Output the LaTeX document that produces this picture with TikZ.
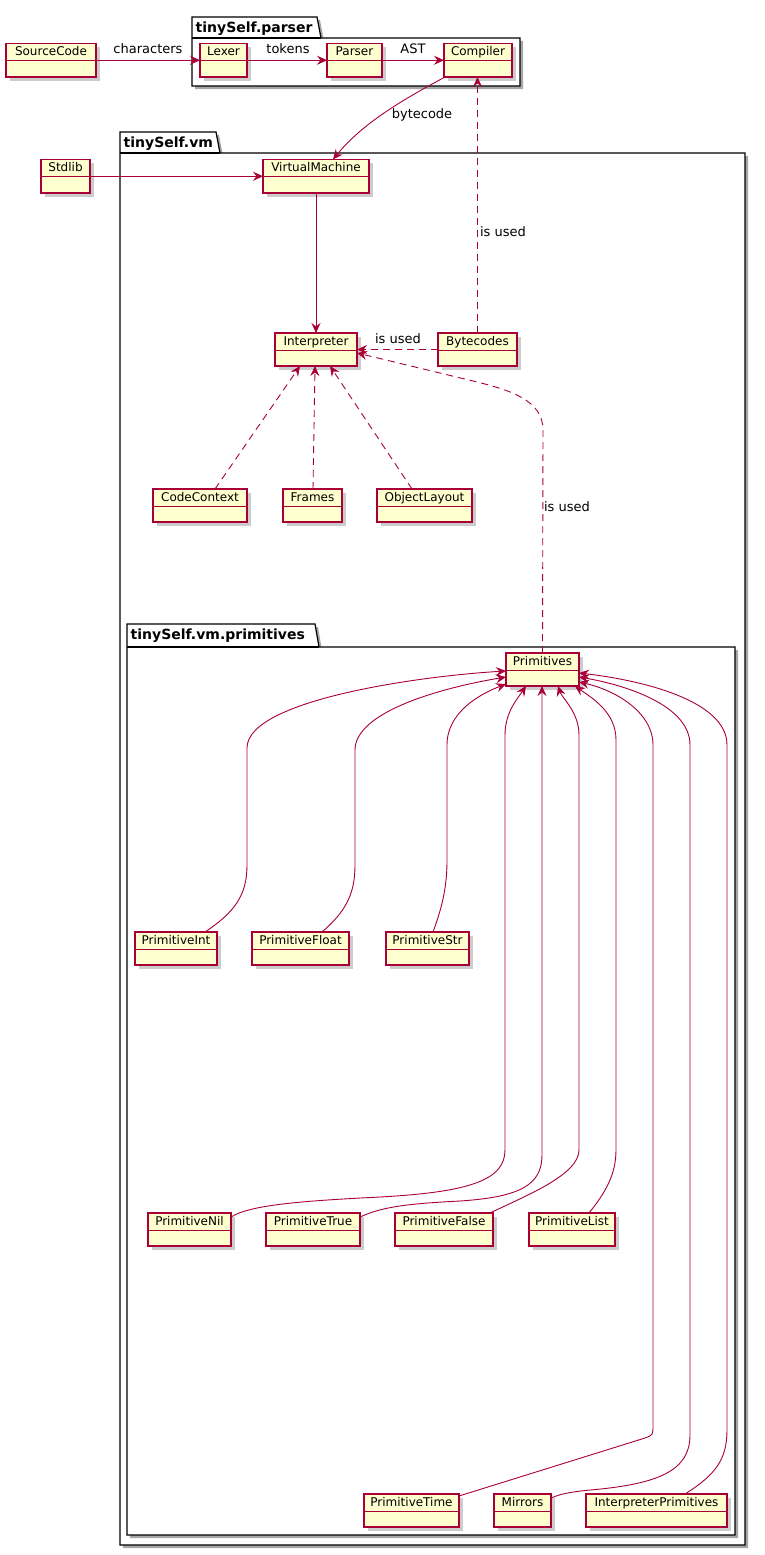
\documentclass[tikz,border=0pt]{standalone}
\usepackage{fontspec}
\setmainfont{DejaVu Sans}
\usetikzlibrary{arrows.meta,shadows}
\definecolor{pborder}{HTML}{A80036}
\definecolor{pfill}{HTML}{FEFECE}
\tikzset{
  clsbox/.style={draw=pborder, fill=pfill, line width=1.15pt, rectangle, inner sep=0pt, outer sep=0pt,
    drop shadow={shadow xshift=3.5pt, shadow yshift=-3.5pt, fill=black, opacity=0.2}},
  clstext/.style={font=\fontsize{12}{14}\selectfont, inner sep=0pt, anchor=base},
  divline/.style={draw=pborder, line width=0.9pt},
  edgeline/.style={draw=pborder, line width=0.9pt},
  arr/.style={edgeline, -{Stealth[length=10pt,width=9pt,inset=3.5pt]}},
  dep/.style={arr, dash pattern=on 7pt off 5pt},
  lbl/.style={font=\fontsize{13}{15}\selectfont, inner sep=0pt, anchor=base},
  pkg/.style={draw=black, line width=1.2pt, fill=white,
    drop shadow={shadow xshift=3pt, shadow yshift=-3pt, fill=black, opacity=0.35}},
  pkgline/.style={draw=black, line width=1.2pt},
  pkgtitle/.style={font=\bfseries\fontsize{14}{16}\selectfont, anchor=base west, inner sep=0pt},
}
% name, x1, y1, x2, y2, text
\newcommand\umlclass[6]{%
  \node[clsbox, anchor=north west, minimum width={(#4-#2)*1pt}, minimum height={(#5-#3)*1pt}] (#1) at (#2,#3) {};
  \draw[divline] ([yshift=-17pt]#1.north west) -- ([yshift=-17pt]#1.north east);
  \node[clstext] at ([yshift=-12.4pt]#1.north) {#6};
}
% x1, ytab, ybody, x2, y2, tabright, title
\newcommand\umlpkg[7]{%
  \path[pkg] (#1,#5) -- (#1,#2) -- (#6,#2) -- (#6+4,#3) -- (#4,#3) -- (#4,#5) -- cycle;
  \draw[pkgline] (#1,#3) -- (#6+4,#3);
  \node[pkgtitle] at (#1+3.5,#2+15.5) {#7};
}
\begin{document}
\begin{tikzpicture}[x=1pt,y=-1pt]
\useasboundingbox[fill=white] (0,0) rectangle (765,1555);

% packages
\umlpkg{192}{17}{38}{520}{86}{317}{tinySelf.parser}
\umlpkg{120}{132}{153}{745}{1545}{216}{tinySelf.vm}
\umlpkg{127}{624}{647}{735}{1535}{315}{tinySelf.vm.primitives}

% classes
\umlclass{SourceCode}{6}{43.5}{96}{77}{SourceCode}
\umlclass{Lexer}{200}{43.5}{247}{77}{Lexer}
\umlclass{Parser}{327}{43.5}{382}{77}{Parser}
\umlclass{Compiler}{444}{43.5}{512}{77}{Compiler}
\umlclass{Stdlib}{41}{159.5}{90}{193}{Stdlib}
\umlclass{VirtualMachine}{263}{159.5}{369}{193}{VirtualMachine}
\umlclass{Interpreter}{275}{333}{357}{366}{Interpreter}
\umlclass{Bytecodes}{438}{333}{517}{366}{Bytecodes}
\umlclass{CodeContext}{153}{489}{247}{522}{CodeContext}
\umlclass{Frames}{283}{489}{342}{522}{Frames}
\umlclass{ObjectLayout}{377}{489}{472}{522}{ObjectLayout}
\umlclass{Primitives}{506}{653}{579}{686}{Primitives}
\umlclass{PrimitiveInt}{135}{932}{217}{965}{PrimitiveInt}
\umlclass{PrimitiveFloat}{252}{932}{349}{965}{PrimitiveFloat}
\umlclass{PrimitiveStr}{386}{932}{469}{965}{PrimitiveStr}
\umlclass{PrimitiveNil}{148}{1213}{231}{1246}{PrimitiveNil}
\umlclass{PrimitiveTrue}{266}{1213}{360}{1246}{PrimitiveTrue}
\umlclass{PrimitiveFalse}{395}{1213}{493}{1246}{PrimitiveFalse}
\umlclass{PrimitiveList}{529}{1213}{615}{1246}{PrimitiveList}
\umlclass{PrimitiveTime}{364}{1494}{459}{1527}{PrimitiveTime}
\umlclass{Mirrors}{494}{1494}{551}{1527}{Mirrors}
\umlclass{InterpreterPrimitives}{586}{1494}{727}{1527}{InterpreterPrimitives}

% top pipeline
\draw[arr] (SourceCode.east) -- (Lexer.west);
\draw[arr] (Lexer.east) -- (Parser.west);
\draw[arr] (Parser.east) -- (Compiler.west);
\node[lbl] (lchars) at (148,53) {characters};
\node[lbl] (ltokens) at (288,53) {tokens};
\node[lbl] (last) at (413,53) {AST};

% compiler -> vm
\draw[arr] ([xshift=1pt]Compiler.south west) .. controls (412,95) and (365,120) .. ([xshift=70pt]VirtualMachine.north west);
\node[lbl] (lbytecode) at (422,118.5) {bytecode};

% bytecodes -> compiler
\draw[dep] (Bytecodes.north) -- (Bytecodes.north |- Compiler.south);
\node[lbl] (lused1) at (503,236) {is used};

\draw[arr] (Stdlib.east) -- (VirtualMachine.west);
\draw[arr] (VirtualMachine.south) -- (Interpreter.north);

\draw[dep] (Bytecodes.west) -- (Interpreter.east);
\node[lbl] (lused2) at (398,343) {is used};

% primitives -> interpreter
\draw[dep] (Primitives.north) -- (543,430) .. controls (543,400) and (510,390) .. (473,381) -- ([yshift=-20pt]Interpreter.north east);
\node[lbl] (lused3) at (567,511) {is used};

\draw[dep] ([xshift=62pt]CodeContext.north west) -- ([xshift=25pt]Interpreter.south west);
\draw[dep] ([xshift=30pt]Frames.north west) -- ([xshift=40pt]Interpreter.south west);
\draw[dep] ([xshift=35pt]ObjectLayout.north west) -- ([xshift=55pt]Interpreter.south west);

% primitive implementations -> Primitives
\draw[arr] ([xshift=70pt]PrimitiveInt.north west) .. controls (235,912) and (247,895) .. (247,865) -- (247,748)
  .. controls (247,700) and (420,676) .. ([yshift=-18pt]Primitives.north west);
\draw[arr] ([xshift=70pt]PrimitiveFloat.north west) .. controls (345,912) and (355,895) .. (355,865) -- (355,750)
  .. controls (355,712) and (440,688) .. ([yshift=-24pt]Primitives.north west);
\draw[arr] ([xshift=47pt]PrimitiveStr.north west) .. controls (443,905) and (447,885) .. (447,860) -- (447,745)
  .. controls (447,712) and (480,694) .. ([yshift=2pt]Primitives.south west);

\draw[arr] ([yshift=-4pt]PrimitiveNil.north east) .. controls (250,1205) and (300,1201) .. (380,1197)
  .. controls (470,1192) and (505,1180) .. (505,1150) -- (505,735)
  .. controls (505,712) and (518,698) .. ([xshift=20pt]Primitives.south west);
\draw[arr] ([yshift=-4pt]PrimitiveTrue.north east) .. controls (380,1208) and (400,1204) .. (460,1201)
  .. controls (520,1197) and (542,1185) .. (542,1155) -- ([xshift=36pt]Primitives.south west);
\draw[arr] ([xshift=-3pt]PrimitiveFalse.north east) .. controls (525,1196) and (579,1175) .. (579,1150) -- (579,735)
  .. controls (579,712) and (562,698) .. ([xshift=52pt]Primitives.south west);
\draw[arr] ([xshift=60pt]PrimitiveList.north west) .. controls (605,1193) and (616,1175) .. (616,1150) -- (616,740)
  .. controls (616,712) and (592,698) .. ([xshift=-4pt]Primitives.south east);

\draw[arr] ([yshift=-2pt]PrimitiveTime.north east) -- (645,1438) .. controls (653,1435) .. (653,1425) -- (653,745)
  .. controls (653,712) and (615,690) .. ([yshift=4pt]Primitives.south east);
\draw[arr] ([yshift=-4pt]Mirrors.north east) .. controls (560,1494) and (570,1492) .. (590,1490)
  .. controls (660,1484) and (690,1470) .. (690,1435) -- (690,745)
  .. controls (690,705) and (625,685) .. ([yshift=9pt]Primitives.south east);
\draw[arr] ([xshift=99pt]InterpreterPrimitives.north west) .. controls (715,1475) and (727,1460) .. (727,1430) -- (727,745)
  .. controls (727,700) and (640,680) .. ([yshift=-20pt]Primitives.north east);
\end{tikzpicture}
\end{document}
